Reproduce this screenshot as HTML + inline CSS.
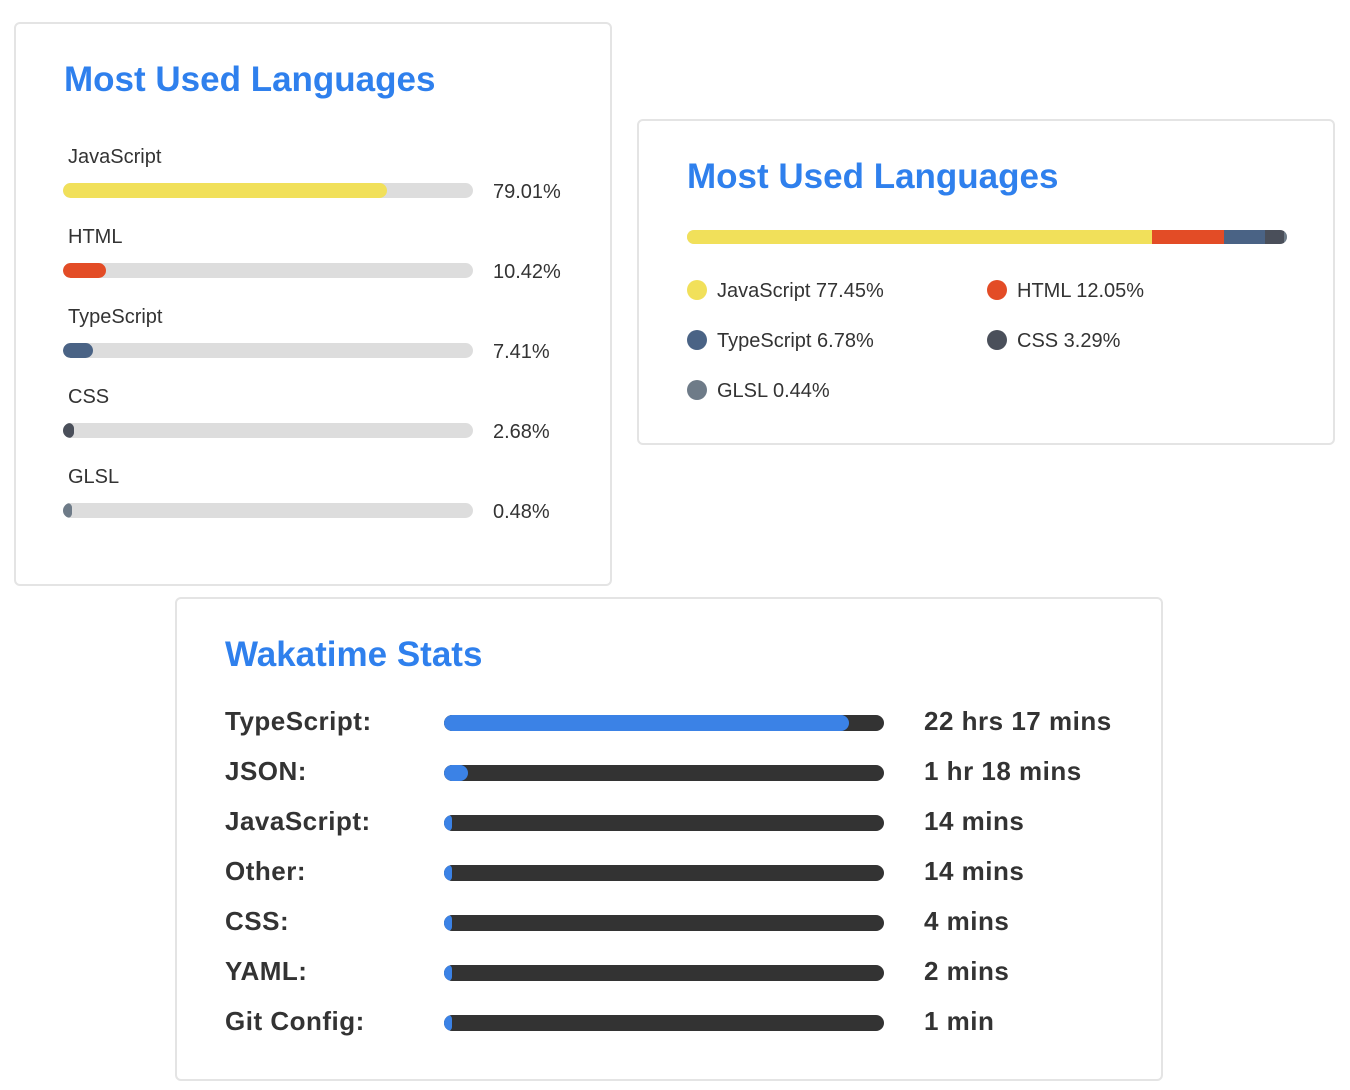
<!DOCTYPE html>
<html><head><meta charset="utf-8"><style>
body{margin:0;width:1350px;height:1090px;background:#fff;font-family:"Liberation Sans","DejaVu Sans",sans-serif;position:relative;overflow:hidden}
.card{position:absolute;border:2px solid #e4e4e4;border-radius:6px;box-sizing:border-box;background:#fff}
.title{position:absolute;font-weight:bold;color:#2f80ed;font-size:35px;white-space:nowrap}
.lbl{position:absolute;font-size:20px;color:#333;white-space:nowrap}
.track{position:absolute;background:#ddd;border-radius:8px;overflow:hidden}
.fill{position:absolute;left:0;top:0;height:100%;border-radius:8px}
.dot{position:absolute;width:20px;height:20px;border-radius:50%}
.wl{position:absolute;font-size:26px;font-weight:bold;color:#333;white-space:nowrap;letter-spacing:0.5px}
</style></head><body>
<div class="card" style="left:14px;top:22px;width:598px;height:564px">
  <div class="title" style="left:48px;top:36px">Most Used Languages</div>
  <div id="c1"></div>
</div>
<div class="card" style="left:637px;top:119px;width:698px;height:326px">
  <div class="title" style="left:48px;top:36px">Most Used Languages</div>
  <div class="track" id="stack" style="left:48px;top:109px;width:600px;height:14px"></div>
  <div id="c2"></div>
</div>
<div class="card" style="left:175px;top:597px;width:988px;height:484px">
  <div class="title" style="left:48px;top:36px">Wakatime Stats</div>
  <div id="c3"></div>
</div>
<script>
const langNames=["JavaScript","HTML","TypeScript","CSS","GLSL"];
const langPct=[79.01,10.42,7.41,2.68,0.48];
const langColors=["#f1e05a","#e34c26","#4a6385","#4a4f5a","#6e7b88"];
const compactNames=["JavaScript","HTML","TypeScript","CSS","GLSL"];
const compactPct=[77.45,12.05,6.78,3.29,0.44];
const wakaNames=["TypeScript:","JSON:","JavaScript:","Other:","CSS:","YAML:","Git Config:"];
const wakaMins=[1337,78,14,14,4,2,1];
const wakaText=["22 hrs 17 mins","1 hr 18 mins","14 mins","14 mins","4 mins","2 mins","1 min"];

const c1=document.getElementById('c1');
langNames.forEach((n,i)=>{
  const y=122+80*i;
  const l=document.createElement('div');l.className='lbl';l.style.left='52px';l.style.top=y+'px';l.textContent=n;
  
  
  c1.appendChild(l);
  const t=document.createElement('div');t.className='track';t.style.cssText=`left:47px;top:${y+37}px;width:410px;height:15px`;
  
  
  const f=document.createElement('div');f.className='fill';f.style.width=Math.max(langPct[i]/100*410,9)+'px';f.style.background=langColors[i];
  
  
  t.appendChild(f);c1.appendChild(t);
  const p=document.createElement('div');p.className='lbl';p.style.left='477px';p.style.top=(y+35)+'px';p.textContent=langPct[i].toFixed(2)+'%';
  
  
  c1.appendChild(p);
});

const st=document.getElementById('stack');let acc=0;
const tot=compactPct.reduce((a,b)=>a+b,0);
compactPct.forEach((v,i)=>{
  const s=document.createElement('div');s.style.cssText=`position:absolute;top:0;height:100%;left:${acc/tot*600}px;width:${v/tot*600}px;background:${langColors[i]}`;
  
  
  st.appendChild(s);acc+=v;
});
const c2=document.getElementById('c2');
compactNames.forEach((n,i)=>{
  const x=48+(i%2)*300, y=159+50*Math.floor(i/2);
  const d=document.createElement('div');d.className='dot';d.style.cssText=`left:${x}px;top:${y}px;background:${langColors[i]}`;
  
  
  c2.appendChild(d);
  const l=document.createElement('div');l.className='lbl';l.style.left=(x+30)+'px';l.style.top=(y)+'px';l.textContent=n+' '+compactPct[i].toFixed(2)+'%';
  
  
  c2.appendChild(l);
});

const c3=document.getElementById('c3');const maxM=wakaMins[0]/0.92;
wakaNames.forEach((n,i)=>{
  const y=107+50*i;
  const l=document.createElement('div');l.className='wl';l.style.left='48px';l.style.top=y+'px';l.textContent=n;
  
  
  c3.appendChild(l);
  const t=document.createElement('div');t.className='track';t.style.cssText=`left:267px;top:${y+9}px;width:440px;height:16px;background:#333`;
  
  
  const f=document.createElement('div');f.className='fill';f.style.width=Math.max(wakaMins[i]/maxM*440,8)+'px';f.style.background='#3b82e6';
  
  
  t.appendChild(f);c3.appendChild(t);
  const v=document.createElement('div');v.className='wl';v.style.left='747px';v.style.top=y+'px';v.textContent=wakaText[i];
  
  
  c3.appendChild(v);
});
</script>
</body></html>
